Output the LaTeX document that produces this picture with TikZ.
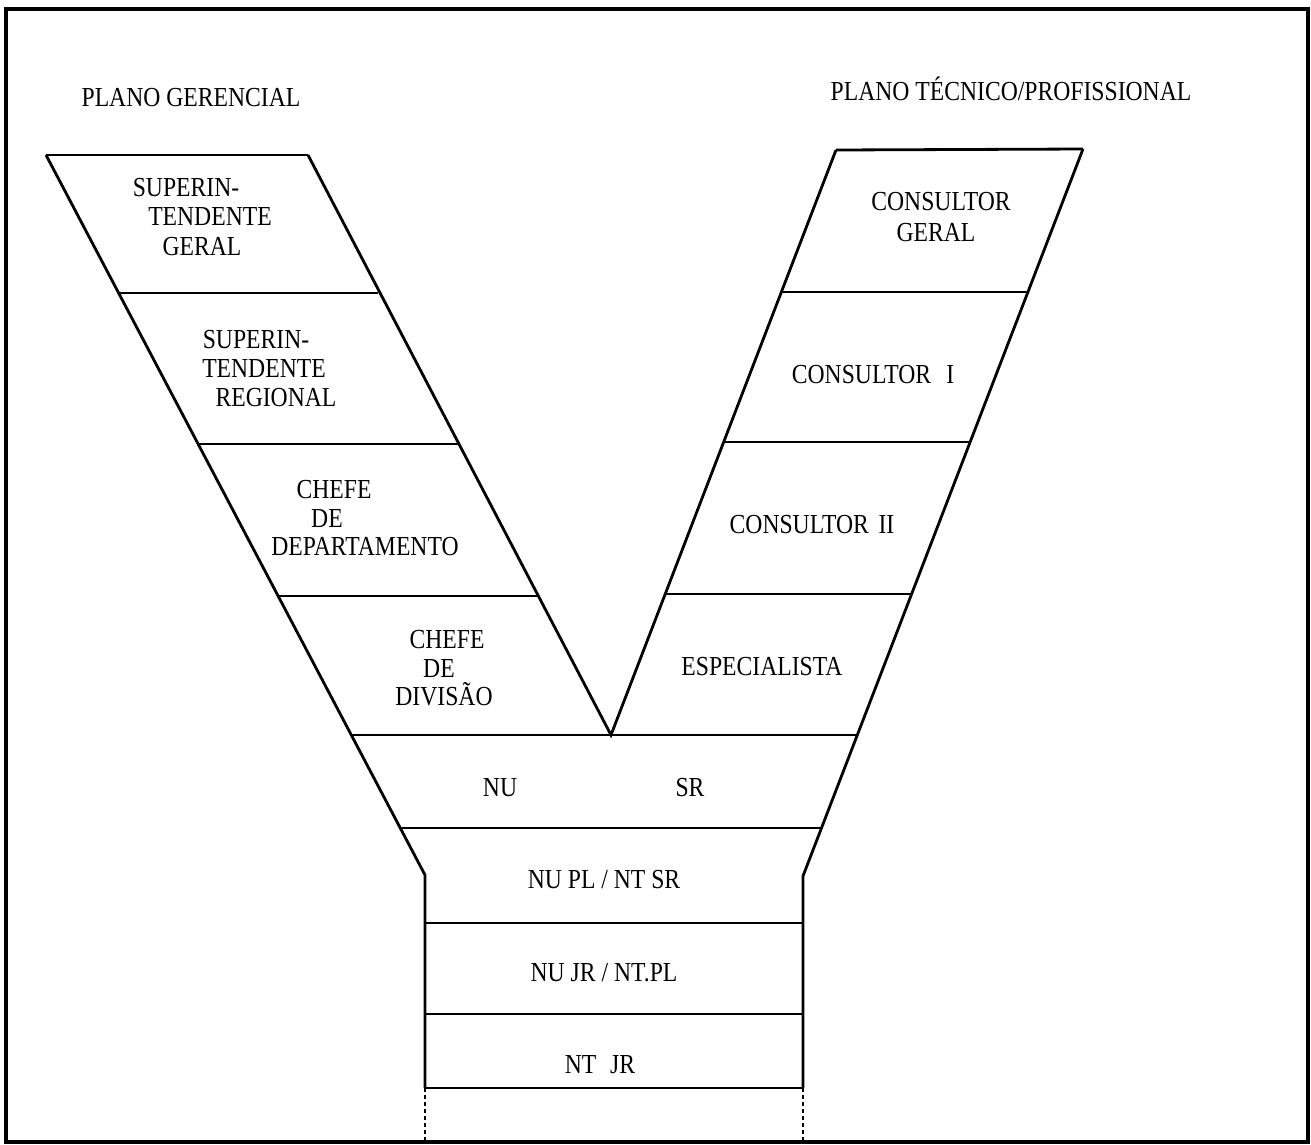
\documentclass[tikz,border=0pt]{standalone}
\usepackage{fontspec}
\setmainfont[FakeStretch=0.86]{Liberation Serif}
\begin{document}
\begin{tikzpicture}[x=1pt,y=-1pt,
  ln/.style={line width=2.8pt,line cap=butt,line join=miter},
  dln/.style={line width=2.8pt,dash pattern=on 4pt off 3pt},
  lbl/.style={anchor=base,inner sep=0pt,font=\fontsize{27.5}{31}\selectfont}]
\useasboundingbox (0,0) rectangle (1311,1144);
% frame
\draw[line width=3.2pt] (6,9) rectangle (1308,1142);
% corner coordinates
\coordinate (L0) at (46,155);
\coordinate (L1) at (119,293);
\coordinate (L2) at (198,444);
\coordinate (L3) at (279,596);
\coordinate (L4) at (352,735);
\coordinate (L5) at (401,828);
\coordinate (L6) at (425,875);
\coordinate (L7) at (425,1088);
\coordinate (L8) at (425,1142);
\coordinate (RA) at (425,923);
\coordinate (RB) at (425,1014);
\coordinate (I0) at (308,155);
\coordinate (I1) at (378,293);
\coordinate (I2) at (458,444);
\coordinate (I3) at (537,596);
\coordinate (V)  at (611,735);
\coordinate (J0) at (836,150);
\coordinate (J1) at (782,292);
\coordinate (J2) at (724,442);
\coordinate (J3) at (666,594);
\coordinate (R0) at (1083,149);
\coordinate (R1) at (1028,292);
\coordinate (R2) at (970,442);
\coordinate (R3) at (912,594);
\coordinate (R4) at (857,735);
\coordinate (R5) at (822,828);
\coordinate (R6) at (803,876);
\coordinate (R7) at (803,1088);
\coordinate (R8) at (803,1142);
\coordinate (SA) at (803,923);
\coordinate (SB) at (803,1014);
% outlines
\draw[ln] (L0) -- (L6) -- (L7);
\draw[ln] (R0) -- (R6) -- (R7);
\draw[ln] (I0) -- (V) -- (J0);
% cross lines
\draw[ln] (L0) -- (I0);
\draw[ln] (L1) -- (I1);
\draw[ln] (L2) -- (I2);
\draw[ln] (L3) -- (I3);
\draw[ln] (J0) -- (R0);
\draw[ln] (J1) -- (R1);
\draw[ln] (J2) -- (R2);
\draw[ln] (J3) -- (R3);
\draw[ln] (L4) -- (R4);
\draw[ln] (L5) -- (R5);
\draw[ln] (RA) -- (SA);
\draw[ln] (RB) -- (SB);
\draw[ln] (L7) -- (R7);
\draw[dln] (L7) -- (L8);
\draw[dln] (R7) -- (R8);
% headings
\node[lbl] (hg) at (191,106) {PLANO GERENCIAL};
\node[lbl] (ht) at (1011,100) {PLANO TÉCNICO/PROFISSIONAL};
% left arm
\node[lbl] (sg1) at (186,196) {SUPERIN-};
\node[lbl] (sg2) at (210,225) {TENDENTE};
\node[lbl] (sg3) at (202,255) {GERAL};
\node[lbl] (sr1) at (256,348) {SUPERIN-};
\node[lbl] (sr2) at (264,377) {TENDENTE};
\node[lbl] (sr3) at (276,406) {REGIONAL};
\node[lbl] (cd1) at (334,498) {CHEFE};
\node[lbl] (cd2) at (327,527) {DE};
\node[lbl] (cd3) at (365,555) {DEPARTAMENTO};
\node[lbl] (cv1) at (447,648) {CHEFE};
\node[lbl] (cv2) at (439,677) {DE};
\node[lbl] (cv3) at (444,705) {DIVISÃO};
% right arm
\node[lbl] (cg1) at (941,210) {CONSULTOR};
\node[lbl] (cg2) at (936,241) {GERAL};
\node[lbl] (c1) at (873,383) {CONSULTOR\hspace{0.55em}I};
\node[lbl] (c2) at (812,533) {CONSULTOR\hspace{0.35em}II};
\node[lbl] (esp) at (762,675) {ESPECIALISTA};
% stem
\node[lbl] (nu) at (500,796) {NU};
\node[lbl] (sr) at (690,796) {SR};
\node[lbl] (r1) at (604,888) {NU PL / NT SR};
\node[lbl] (r2) at (604,981) {NU JR / NT.PL};
\node[lbl] (r3) at (600,1073) {NT\hspace{0.5em}JR};
\end{tikzpicture}
\end{document}
